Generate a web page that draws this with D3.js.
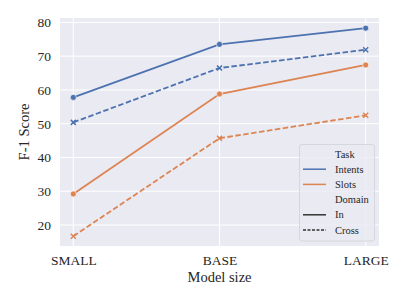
<!DOCTYPE html>
<html>
<head>
<meta charset="utf-8">
<script src="https://cdn.jsdelivr.net/npm/d3@7"></script>
<style>
  body { margin: 0; background: #fff; }
  text { font-family: "Liberation Serif", "Times New Roman", serif; }
</style>
</head>
<body>
<div id="chart"></div>
<script>
//data
const sizes = ["SMALL", "BASE", "LARGE"];
const intentsIn = [57.8, 73.5, 78.3];
const intentsCross = [50.4, 66.5, 71.9];
const slotsIn = [29.2, 58.8, 67.4];
const slotsCross = [16.7, 45.7, 52.5];
const yTicks = [20, 30, 40, 50, 60, 70, 80];

const series = [
  { values: intentsIn, color: "#4c72b0", dash: null, marker: "circle" },
  { values: intentsCross, color: "#4c72b0", dash: "5.5,2.5", marker: "x" },
  { values: slotsIn, color: "#dd8452", dash: null, marker: "circle" },
  { values: slotsCross, color: "#dd8452", dash: "5.5,2.5", marker: "x" },
];

//size
const width = 407;
const height = 305;
const margin = { left: 60, right: 28, top: 18, bottom: 59 };
const serif = "'Liberation Serif', 'Times New Roman', serif";

const svg = d3.select("#chart")
  .append("svg")
  .attr("width", width)
  .attr("height", height);

const x = d3.scalePoint()
  .domain(sizes)
  .range([73.3, 365.7]);

const y = d3.scaleLinear()
  .domain([13.8, 81.3])
  .range([height - margin.bottom, margin.top]);

//plot background
svg.append("rect")
  .attr("x", margin.left)
  .attr("y", margin.top)
  .attr("width", width - margin.left - margin.right)
  .attr("height", height - margin.top - margin.bottom)
  .attr("fill", "#eaeaf2");

//grid
svg.append("g")
  .selectAll("line")
  .data(yTicks)
  .join("line")
  .attr("x1", margin.left)
  .attr("x2", width - margin.right)
  .attr("y1", d => y(d))
  .attr("y2", d => y(d))
  .attr("stroke", "#fff")
  .attr("stroke-width", 1);

svg.append("g")
  .selectAll("line")
  .data(sizes)
  .join("line")
  .attr("x1", d => x(d))
  .attr("x2", d => x(d))
  .attr("y1", margin.top)
  .attr("y2", height - margin.bottom)
  .attr("stroke", "#fff")
  .attr("stroke-width", 1);

//axes
const yAxis = svg.append("g")
  .attr("transform", `translate(${margin.left},0)`)
  .attr("font-family", serif)
  .call(d3.axisLeft(y).tickValues(yTicks).tickSize(0).tickPadding(9));
yAxis.select(".domain").remove();
yAxis.selectAll("text")
  .attr("font-size", 13.5)
  .attr("fill", "#262626")
  .style("font-family", serif);

const xAxis = svg.append("g")
  .attr("transform", `translate(0,${height - margin.bottom})`)
  .call(d3.axisBottom(x).tickSize(0).tickPadding(9));
xAxis.attr("font-family", serif);
xAxis.select(".domain").remove();
xAxis.selectAll("text")
  .attr("font-size", 13.5)
  .attr("fill", "#262626")
  .style("font-family", serif);

//axis labels
svg.append("text")
  .attr("x", (margin.left + width - margin.right) / 2)
  .attr("y", 282)
  .attr("text-anchor", "middle")
  .attr("font-size", 14.5)
  .attr("fill", "#262626")
  .text("Model size");

svg.append("text")
  .attr("transform", `translate(29,${(margin.top + height - margin.bottom) / 2}) rotate(-90)`)
  .attr("text-anchor", "middle")
  .attr("font-size", 14.5)
  .attr("fill", "#262626")
  .text("F-1 Score");

//lines
const line = d3.line()
  .x((d, i) => x(sizes[i]))
  .y(d => y(d));

const gSeries = svg.selectAll("g.series")
  .data(series)
  .join("g")
  .attr("class", "series");

gSeries.append("path")
  .attr("d", d => line(d.values))
  .attr("fill", "none")
  .attr("stroke", d => d.color)
  .attr("stroke-width", 1.8)
  .attr("stroke-dasharray", d => d.dash);

//markers
gSeries.each(function (s) {
  const g = d3.select(this);
  s.values.forEach((v, i) => {
    const cx = x(sizes[i]);
    const cy = y(v);
    if (s.marker === "circle") {
      g.append("circle")
        .attr("cx", cx)
        .attr("cy", cy)
        .attr("r", 3)
        .attr("fill", s.color)
        .attr("stroke", "#fff")
        .attr("stroke-width", 0.6);
    } else {
      g.append("path")
        .attr("d", `M${cx - 2.5},${cy - 2.5}L${cx + 2.5},${cy + 2.5}M${cx - 2.5},${cy + 2.5}L${cx + 2.5},${cy - 2.5}`)
        .attr("stroke", s.color)
        .attr("stroke-width", 1.5);
    }
  });
});

//legend
const legendItems = [
  { text: "Task", color: null, dash: null },
  { text: "Intents", color: "#4c72b0", dash: null },
  { text: "Slots", color: "#dd8452", dash: null },
  { text: "Domain", color: null, dash: null },
  { text: "In", color: "#333", dash: null },
  { text: "Cross", color: "#333", dash: "3,1.5" },
];

const legend = svg.append("g").attr("class", "legend");
legend.append("rect")
  .attr("x", 299.5)
  .attr("y", 144.5)
  .attr("width", 75)
  .attr("height", 96.5)
  .attr("rx", 2.5)
  .attr("fill", "#eaeaf2")
  .attr("fill-opacity", 0.8)
  .attr("stroke", "#d0d0d8")
  .attr("stroke-width", 0.8);

const item = legend.selectAll("g.item")
  .data(legendItems)
  .join("g")
  .attr("class", "item")
  .attr("transform", (d, i) => `translate(0,${154 + i * 15.2})`);

item.filter(d => d.color)
  .append("line")
  .attr("x1", 303)
  .attr("x2", 326)
  .attr("stroke", d => d.color)
  .attr("stroke-width", 1.5)
  .attr("stroke-dasharray", d => d.dash);

item.append("text")
  .attr("x", 335)
  .attr("dy", "0.35em")
  .attr("font-size", 10.5)
  .attr("fill", "#262626")
  .text(d => d.text);
</script>
</body>
</html>
